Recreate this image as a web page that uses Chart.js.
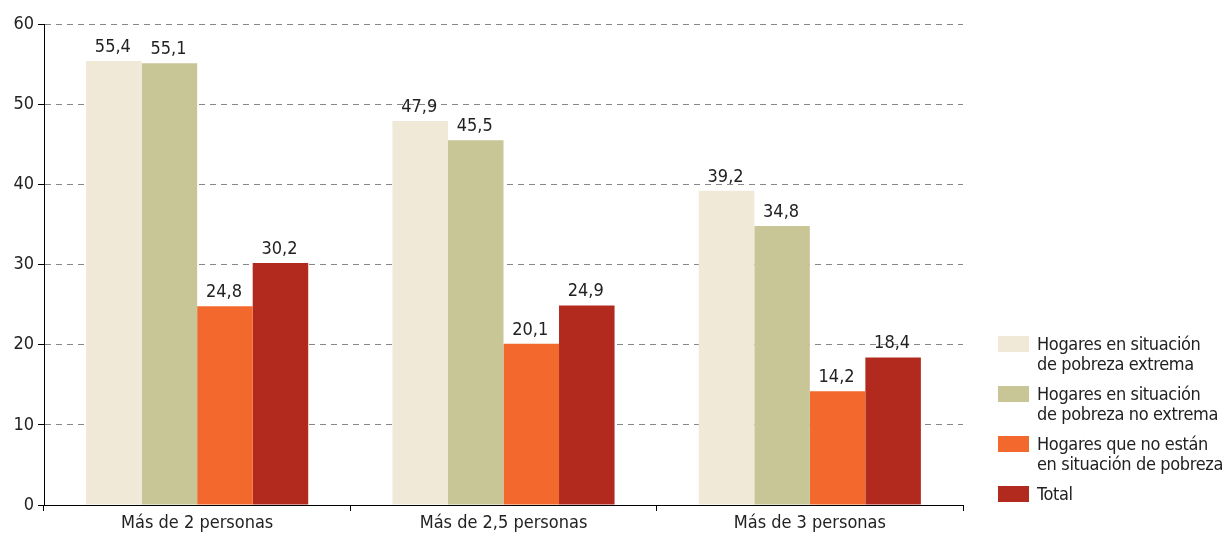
<!DOCTYPE html>
<html>
<head>
<meta charset="utf-8">
<script src="https://cdn.jsdelivr.net/npm/chart.js@4"></script>
<style>
  body { margin: 0; background: #fff; }
  #wrap { position: relative; width: 1226px; height: 538px; }
  #legend { position: absolute; left: 998px; top: 334px; font: 18px "Liberation Sans Narrow", "DejaVu Sans Condensed", sans-serif; letter-spacing: -0.35px; color: #222; white-space: nowrap; }
  .item { display: flex; align-items: flex-start; margin-bottom: 10px; line-height: 20px; }
  .box { width: 31px; height: 16px; margin-top: 2px; margin-right: 8px; flex: none; }
</style>
</head>
<body>
<div id="wrap">
  <canvas id="chart" width="1226" height="538"></canvas>
  <div id="legend"></div>
</div>
<script>
const categories = ['Más de 2 personas', 'Más de 2,5 personas', 'Más de 3 personas']
const seriesNames = [
  ['Hogares en situación', 'de pobreza extrema'],
  ['Hogares en situación', 'de pobreza no extrema'],
  ['Hogares que no están', 'en situación de pobreza'],
  ['Total']
]
const pobrezaExtrema = [55.4, 47.9, 39.2]
const pobrezaNoExtrema = [55.1, 45.5, 34.8]
const noPobres = [24.8, 20.1, 14.2]
const total = [30.2, 24.9, 18.4]
const yTicks = [0, 10, 20, 30, 40, 50, 60]

const colors = ['#f0e9d8', '#c8c596', '#f2682d', '#b22a1e']
const fontFamily = '"Liberation Sans Narrow", "DejaVu Sans Condensed", sans-serif'

// draws the value above each bar
const barLabels = {
  id: 'barLabels',
  afterDatasetsDraw(chart) {
    var ctx = chart.ctx
    ctx.save()
    ctx.font = '18px ' + fontFamily
    ctx.fillStyle = '#222'
    ctx.textAlign = 'center'
    ctx.textBaseline = 'alphabetic'
    chart.data.datasets.forEach(function (ds, i) {
      chart.getDatasetMeta(i).data.forEach(function (bar, j) {
        ctx.fillText(ds.data[j].toFixed(1).replace('.', ','), bar.x - 1, bar.y - 9)
      })
    })
    ctx.restore()
  }
}

const allSeries = [pobrezaExtrema, pobrezaNoExtrema, noPobres, total]

new Chart(document.getElementById('chart'), {
  type: 'bar',
  data: {
    labels: categories,
    datasets: allSeries.map(function (d, i) {
      return {
        label: seriesNames[i].join(' '),
        data: d,
        backgroundColor: colors[i],
        borderWidth: 0,
        categoryPercentage: 0.725,
        barPercentage: 1
      }
    })
  },
  options: {
    responsive: false,
    animation: false,
    layout: { padding: { left: 0, right: 263, top: 24, bottom: 0 } },
    plugins: { legend: { display: false }, tooltip: { enabled: false } },
    scales: {
      x: {
        grid: { display: true, offset: true, drawOnChartArea: false, drawTicks: true, tickLength: 6, color: '#000', tickColor: '#000' },
        border: { display: true, color: '#000', width: 1 },
        ticks: { color: '#222', font: { family: fontFamily, size: 18 }, padding: 2 },
        afterFit: function (scale) { scale.height = 33 }
      },
      y: {
        min: 0,
        max: 60,
        afterBuildTicks: function (scale) { scale.ticks = yTicks.map(function (v) { return { value: v } }) },
        grid: { color: '#888', lineWidth: 1, tickLength: 6, tickColor: '#000', tickBorderDash: [], drawTicks: true },
        border: { display: true, color: '#000', width: 1, dash: [6, 5] },
        ticks: { color: '#222', font: { family: fontFamily, size: 18 }, padding: 4 },
        afterFit: function (scale) { scale.width = 44 }
      }
    }
  },
  plugins: [barLabels]
})

// html legend, two-line labels
var legend = document.getElementById('legend')
seriesNames.forEach(function (lines, i) {
  var item = document.createElement('div')
  item.className = 'item'
  var box = document.createElement('div')
  box.className = 'box'
  box.style.background = colors[i]
  var txt = document.createElement('div')
  txt.innerHTML = lines.join('<br>')
  item.appendChild(box)
  item.appendChild(txt)
  legend.appendChild(item)
})
</script>
</body>
</html>
